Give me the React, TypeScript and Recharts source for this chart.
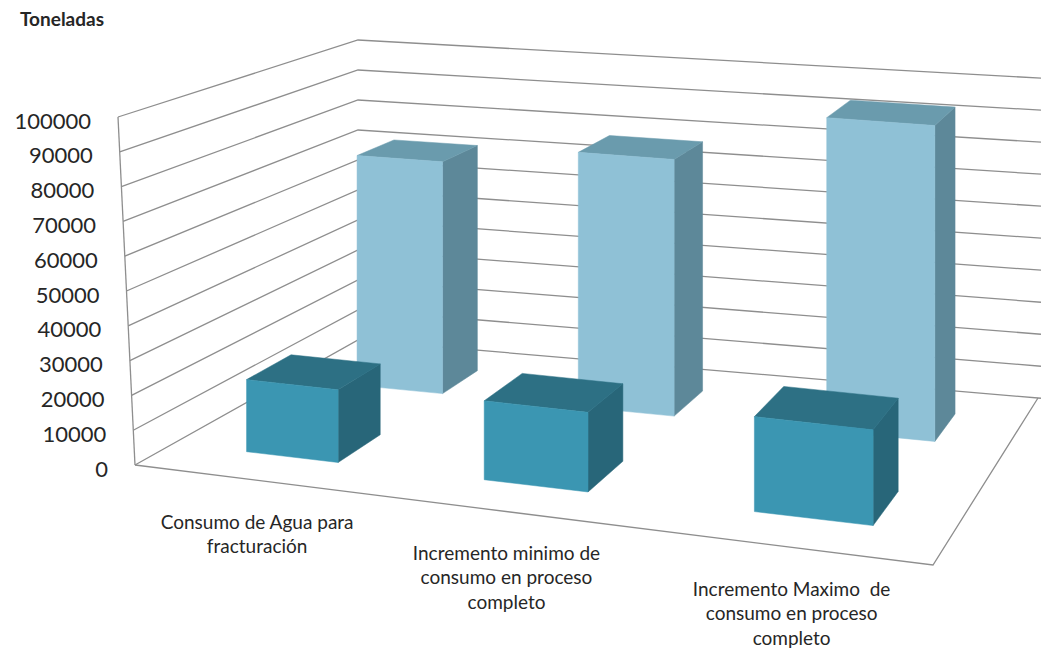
import React from 'react';
import { BarChart, Bar, XAxis, YAxis, CartesianGrid } from 'recharts';

// ---------- data ----------
const categories = [
  'Consumo de Agua para fracturación',
  'Incremento minimo de consumo en proceso completo',
  'Incremento Maximo  de consumo en proceso completo',
];
const categoryLines = [
  ['Consumo de Agua para', 'fracturación'],
  ['Incremento minimo de', 'consumo en proceso', 'completo'],
  ['Incremento Maximo  de', 'consumo en proceso', 'completo'],
];
const frontValues = [21000, 22500, 26500];
const backValues = [72000, 78000, 94000];
const yTicks = [0, 10000, 20000, 30000, 40000, 50000, 60000, 70000, 80000, 90000, 100000];
const yTitle = 'Toneladas';

const data = categories.map((name, i) => ({ name, front: frontValues[i], back: backValues[i] }));

// ---------- geometry (projection of the 3D box) ----------
const W = 1041;
const H = 651;
const PLOT_TOP = 117;
const PLOT_BOTTOM = 465;
const PLOT_LEFT = 135;
const PLOT_RIGHT = 1038;
const PLOT_H = PLOT_BOTTOM - PLOT_TOP;
const PLOT_W = PLOT_RIGHT - PLOT_LEFT;
const X_AXIS_H = 30;
const BAR_FRACTION = 0.4; // share of a category band taken by a box

// floor corners: FL, FR, BR, BL
const FL = [135, 465];
const FR = [933, 565];
const BR = [1038, 398];
const BL = [358, 340];
// vertical pixel length of full scale at each floor corner
const S_FL = 348;
const S_FR = 371;
const S_BR = 320;
const S_BL = 300;
const LEAN = 17;

const U0 = 0.0105;
const USPAN = 1.005;
const ROWS: Record<string, [number, number]> = { front: [0.15, 0.34], back: [0.65, 0.84] };

const HG = (() => {
  const [x0, y0] = FL, [x1, y1] = FR, [x2, y2] = BR, [x3, y3] = BL;
  const dx1 = x1 - x2, dx2 = x3 - x2, dx3 = x0 - x1 + x2 - x3;
  const dy1 = y1 - y2, dy2 = y3 - y2, dy3 = y0 - y1 + y2 - y3;
  const den = dx1 * dy2 - dx2 * dy1;
  const g = (dx3 * dy2 - dx2 * dy3) / den;
  const h = (dx1 * dy3 - dx3 * dy1) / den;
  return {
    a: x1 - x0 + g * x1, b: x3 - x0 + h * x3, c: x0,
    d: y1 - y0 + g * y1, e: y3 - y0 + h * y3, f: y0, g, h,
  };
})();

function floorPt(u: number, v: number): [number, number] {
  const w = HG.g * u + HG.h * v + 1;
  return [(HG.a * u + HG.b * v + HG.c) / w, (HG.d * u + HG.e * v + HG.f) / w];
}
function vScale(u: number, v: number) {
  return (1 - v) * ((1 - u) * S_FL + u * S_FR) + v * ((1 - u) * S_BL + u * S_BR);
}
function topPt(u: number, v: number, f: number): [number, number] {
  const [x, y] = floorPt(u, v);
  return [x, y - vScale(u, v) * f];
}
const pts = (arr: [number, number][]) => arr.map((p) => `${p[0].toFixed(2)},${p[1].toFixed(2)}`).join(' ');
const frac2u = (px: number) => U0 + ((px - PLOT_LEFT) / PLOT_W) * USPAN;

// ---------- colours ----------
const COLORS: Record<string, { face: string; top: string; side: string }> = {
  front: { face: '#3b96b2', top: '#2d7084', side: '#286679' },
  back: { face: '#8fc1d6', top: '#6a9bad', side: '#5d8899' },
};
const GRID = '#8e8e8e';
const TEXT = '#262626';
const FONT = 'Lato, "Open Sans", sans-serif';

function Box3D(props: any) {
  const { x, width, height, row } = props;
  if (height == null || width == null || isNaN(height) || isNaN(width)) return null;
  const cx = x + width / 2; // band centre from the category scale
  const uc = frac2u(cx);
  const hw = (BAR_FRACTION * USPAN) / categories.length / 2;
  const u0 = uc - hw, u1 = uc + hw;
  const [v0, v1] = ROWS[row];
  const f = Math.abs(height) / PLOT_H;
  const c = COLORS[row];
  const front: [number, number][] = [floorPt(u0, v0), floorPt(u1, v0), topPt(u1, v0, f), topPt(u0, v0, f)];
  const side: [number, number][] = [floorPt(u1, v0), floorPt(u1, v1), topPt(u1, v1, f), topPt(u1, v0, f)];
  const top: [number, number][] = [topPt(u0, v0, f), topPt(u1, v0, f), topPt(u1, v1, f), topPt(u0, v1, f)];
  return (
    <g>
      <polygon points={pts(side)} fill={c.side} stroke={c.side} strokeWidth={0.5} />
      <polygon points={pts(top)} fill={c.top} stroke={c.top} strokeWidth={0.5} />
      <polygon points={pts(front)} fill={c.face} stroke={c.face} strokeWidth={0.5} />
    </g>
  );
}

function gridLine(p: any) {
  const y = p.y1;
  const f = (PLOT_BOTTOM - y) / PLOT_H;
  const A: [number, number] = [FL[0] - LEAN * f, FL[1] - S_FL * f];
  const B: [number, number] = [BL[0], BL[1] - S_BL * f];
  const C0: [number, number] = [BR[0], BR[1] - S_BR * f];
  const slope = (C0[1] - B[1]) / (C0[0] - B[0]);
  const C: [number, number] = [W, C0[1] + slope * (W - C0[0])];
  const key = p.key ?? `h-${p.index}`;
  return (
    <g key={key}>
      <polyline points={pts([A, B, C])} fill="none" stroke={GRID} strokeWidth={1.3} />
      {f < 0.01 && (
        <polyline points={pts([FL as [number, number], FR as [number, number], BR as [number, number]])} fill="none" stroke={GRID} strokeWidth={1.3} />
      )}
      {f > 0.99 && (
        <line x1={FL[0] - LEAN} y1={FL[1] - S_FL} x2={FL[0]} y2={FL[1]} stroke={GRID} strokeWidth={1.3} />
      )}
    </g>
  );
}

function YTick(props: any) {
  const { y, payload } = props;
  const f = (PLOT_BOTTOM - y) / PLOT_H;
  const xr = FL[0] - 27 - LEAN * f;
  return (
    <text x={xr} y={y + 3} textAnchor="end" dominantBaseline="central" fontSize={22} fontFamily={FONT} fill={TEXT}>
      {payload.value}
    </text>
  );
}

function XTick(props: any) {
  const { x, payload } = props;
  const idx = categories.indexOf(payload.value);
  const lines = categoryLines[idx] || [String(payload.value)];
  const u = frac2u(x);
  const [px, py] = floorPt(u, 0);
  const top = py + 30;
  return (
    <text x={px + 2} y={top} textAnchor="middle" fontSize={19} fontFamily={FONT} fill={TEXT}>
      {lines.map((l, i) => (
        <tspan key={i} x={px + 2} y={top + 11 + i * 24.5} dominantBaseline="central" style={{ whiteSpace: 'pre' }}>
          {l}
        </tspan>
      ))}
    </text>
  );
}

export default function App() {
  return (
    <div style={{ position: 'absolute', left: 0, top: 0, width: W, height: H, background: '#fff' }}>
      <div
        style={{
          position: 'absolute', left: 20, top: 8, fontFamily: FONT, fontWeight: 700,
          fontSize: 19, color: TEXT, lineHeight: '22px',
        }}
      >
        {yTitle}
      </div>
      <BarChart
        width={W}
        height={H}
        data={data}
        margin={{ top: PLOT_TOP, right: W - PLOT_RIGHT, left: 0, bottom: H - PLOT_BOTTOM - X_AXIS_H }}
        barCategoryGap="60%"
      >
        <CartesianGrid vertical={false} horizontal={gridLine as any} />
        <XAxis
          xAxisId="f"
          dataKey="name"
          height={X_AXIS_H}
          axisLine={false}
          tickLine={false}
          interval={0}
          tick={<XTick />}
        />
        <XAxis xAxisId="b" dataKey="name" hide />
        <YAxis
          width={PLOT_LEFT}
          domain={[0, 100000]}
          ticks={yTicks}
          axisLine={false}
          tickLine={false}
          interval={0}
          tick={<YTick />}
        />
        <Bar xAxisId="b" dataKey="back" isAnimationActive={false} shape={(p: any) => <Box3D {...p} row="back" />} />
        <Bar xAxisId="f" dataKey="front" isAnimationActive={false} shape={(p: any) => <Box3D {...p} row="front" />} />
      </BarChart>
    </div>
  );
}
